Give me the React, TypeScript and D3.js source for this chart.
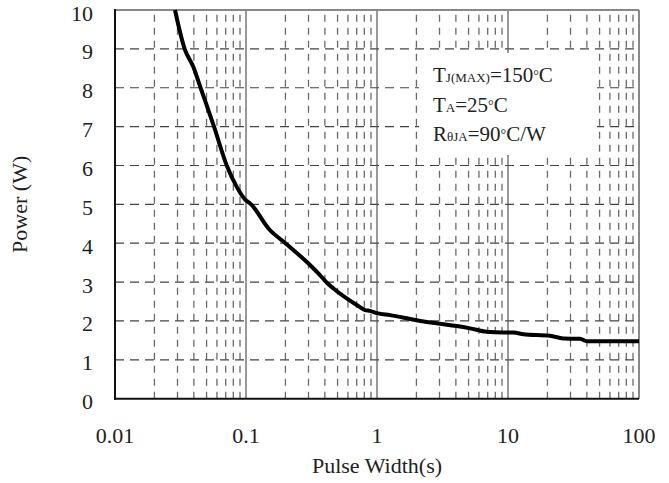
import React from "react";
import * as d3 from "d3";

const pulseWidth = [0.0287, 0.034, 0.0396, 0.045, 0.057, 0.0713, 0.085, 0.1, 0.107, 0.152, 0.2, 0.308, 0.367, 0.418, 0.463, 0.7, 0.81, 0.885, 1.0, 1.26, 2.0, 2.85, 4.06, 5.13, 6.88, 9.2, 11, 13.1, 20.9, 26.4, 35.5, 40, 100];
const power = [10, 9, 8.54, 8, 7, 6, 5.45, 5.1, 5.03, 4.34, 4.0, 3.44, 3.18, 2.97, 2.84, 2.41, 2.28, 2.26, 2.2, 2.15, 2.02, 1.94, 1.87, 1.81, 1.72, 1.7, 1.7, 1.66, 1.62, 1.55, 1.54, 1.48, 1.48];

const xTicks = [0.01, 0.1, 1, 10, 100];
const xTickLabels = ["0.01", "0.1", "1", "10", "100"];
const yTicks = [0, 1, 2, 3, 4, 5, 6, 7, 8, 9, 10];

const W = 669, H = 483;
const L = 115, R = 639, T = 10, B = 398.7;
const FONT = "'Liberation Serif', 'Times New Roman', serif";

export default function App() {
  const x = d3.scaleLog().domain([0.01, 100]).range([L, R]);
  const y = d3.scaleLinear().domain([0, 10]).range([B, T]);

  const minor: number[] = [];
  for (const dec of [0.01, 0.1, 1, 10]) {
    for (let k = 2; k <= 9; k++) minor.push(dec * k);
  }
  const majorV = [0.1, 1, 10];

  const line = d3
    .line<number>()
    .x((_, i) => x(pulseWidth[i]))
    .y((d) => y(d))
    .curve(d3.curveMonotoneX);

  return (
    <svg width={W} height={H} style={{ position: "absolute", left: 0, top: 0, background: "#fff" }} fontFamily={FONT}>
      <rect x={0} y={0} width={W} height={H} fill="#fff" />
      {minor.map((v, i) => (
        <line key={"mv" + i} x1={x(v)} x2={x(v)} y1={B} y2={T} stroke="#6a6a6a" strokeWidth={1.3} strokeDasharray="7,6" />
      ))}
      {yTicks.slice(1, -1).map((v) => (
        <line key={"h" + v} x1={L} x2={R} y1={y(v)} y2={y(v)} stroke="#444" strokeWidth={1.2} strokeDasharray="9,6" />
      ))}
      {majorV.map((v) => (
        <line key={"M" + v} x1={x(v)} x2={x(v)} y1={B} y2={T} stroke="#555" strokeWidth={1.2} />
      ))}
      <rect x={419} y={53} width={178} height={102} fill="#fff" />
      <g fill="#222" fontSize={21}>
        <text x={433} y={82}>
          T<tspan fontSize={13}>J(MAX)</tspan>=150<tspan fontSize={14} dy={-2}>°</tspan><tspan dy={2}>C</tspan>
        </text>
        <text x={433} y={112}>
          T<tspan fontSize={13}>A</tspan>=25<tspan fontSize={14} dy={-2}>°</tspan><tspan dy={2}>C</tspan>
        </text>
        <text x={433} y={141}>
          R<tspan fontSize={13}>θJA</tspan>=90<tspan fontSize={14} dy={-2}>°</tspan><tspan dy={2}>C/W</tspan>
        </text>
      </g>
      <line x1={L} x2={R} y1={T} y2={T} stroke="#888" strokeWidth={2} />
      <line x1={R} x2={R} y1={T} y2={B} stroke="#888" strokeWidth={2} />
      <line x1={L} x2={L} y1={T - 1} y2={B + 1} stroke="#111" strokeWidth={2} />
      <line x1={L - 1} x2={R} y1={B} y2={B} stroke="#111" strokeWidth={2} />
      <path d={line(power) || ""} fill="none" stroke="#000" strokeWidth={4} strokeLinejoin="round" />
      {yTicks.map((v) => (
        <text key={"yl" + v} x={93} y={y(v) + 10.5} textAnchor="end" fontSize={22} fill="#222">
          {v}
        </text>
      ))}
      {xTicks.map((v, i) => (
        <text key={"xl" + v} x={x(v)} y={443} textAnchor="middle" fontSize={22} fill="#222">
          {xTickLabels[i]}
        </text>
      ))}
      <text x={(L + R) / 2} y={473} textAnchor="middle" fontSize={22} fill="#222">
        Pulse Width(s)
      </text>
      <text transform={`translate(27, ${(T + B) / 2}) rotate(-90)`} textAnchor="middle" fontSize={22} fill="#222">
        Power (W)
      </text>
    </svg>
  );
}
